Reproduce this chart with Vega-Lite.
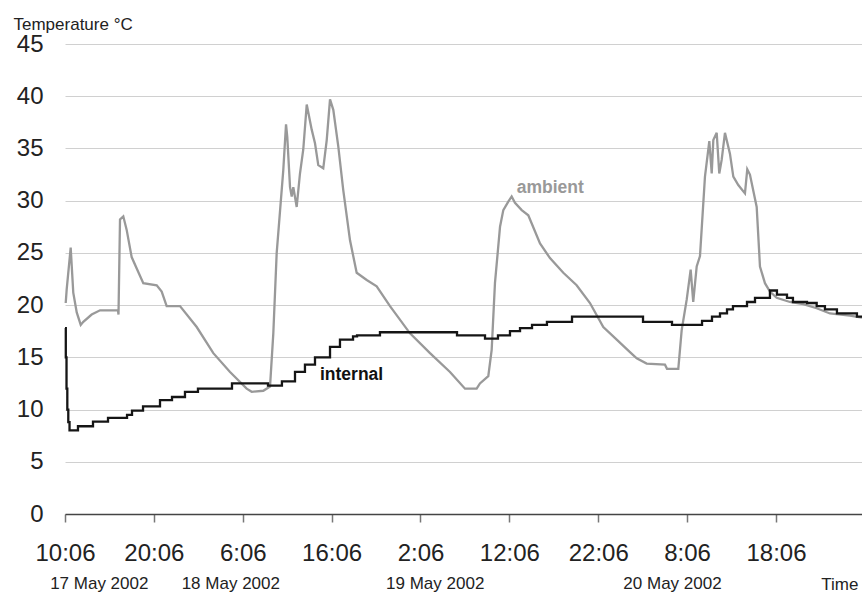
{
  "$schema": "https://vega.github.io/schema/vega-lite/v6.json",
  "width": 797,
  "height": 470,
  "autosize": {"type": "none"},
  "padding": {"left": 65, "top": 44, "right": 0, "bottom": 78},
  "background": "white",
  "config": {"view": {"stroke": null}, "font": "Liberation Sans"},
  "datasets": {
    "ambient": [
      {"hours": 0.08, "temp": 20.2}, {"hours": 0.19, "temp": 21.5}, {"hours": 0.64, "temp": 25.5}, {"hours": 0.93, "temp": 21.2},
      {"hours": 1.32, "temp": 19.3}, {"hours": 1.77, "temp": 18.1}, {"hours": 2.06, "temp": 18.4}, {"hours": 3.0, "temp": 19.1},
      {"hours": 3.94, "temp": 19.5}, {"hours": 5.96, "temp": 19.5}, {"hours": 6.02, "temp": 19.1}, {"hours": 6.19, "temp": 28.2},
      {"hours": 6.56, "temp": 28.5}, {"hours": 6.94, "temp": 27.2}, {"hours": 7.5, "temp": 24.6}, {"hours": 8.07, "temp": 23.5},
      {"hours": 8.81, "temp": 22.1}, {"hours": 10.32, "temp": 21.9}, {"hours": 10.88, "temp": 21.3}, {"hours": 11.44, "temp": 19.9},
      {"hours": 12.94, "temp": 19.9}, {"hours": 14.82, "temp": 17.9}, {"hours": 16.69, "temp": 15.4}, {"hours": 18.57, "temp": 13.6},
      {"hours": 20.44, "temp": 12.0}, {"hours": 21.01, "temp": 11.7}, {"hours": 22.31, "temp": 11.8}, {"hours": 23.07, "temp": 12.2},
      {"hours": 23.44, "temp": 17.3}, {"hours": 23.82, "temp": 25.0}, {"hours": 24.56, "temp": 32.9}, {"hours": 24.87, "temp": 37.3},
      {"hours": 25.01, "temp": 36.1}, {"hours": 25.32, "temp": 31.3}, {"hours": 25.51, "temp": 30.4}, {"hours": 25.69, "temp": 31.3},
      {"hours": 26.07, "temp": 29.4}, {"hours": 26.44, "temp": 32.6}, {"hours": 26.81, "temp": 34.9}, {"hours": 27.2, "temp": 39.2},
      {"hours": 27.76, "temp": 36.8}, {"hours": 28.13, "temp": 35.5}, {"hours": 28.5, "temp": 33.4}, {"hours": 29.06, "temp": 33.1},
      {"hours": 29.45, "temp": 35.8}, {"hours": 29.82, "temp": 39.7}, {"hours": 30.19, "temp": 38.7}, {"hours": 30.75, "temp": 35.2},
      {"hours": 31.31, "temp": 31.0}, {"hours": 32.07, "temp": 26.2}, {"hours": 32.82, "temp": 23.1}, {"hours": 33.95, "temp": 22.4},
      {"hours": 35.07, "temp": 21.8}, {"hours": 36.57, "temp": 19.9}, {"hours": 38.82, "temp": 17.3}, {"hours": 41.07, "temp": 15.4},
      {"hours": 43.32, "temp": 13.6}, {"hours": 45.01, "temp": 12.0}, {"hours": 46.32, "temp": 12.0}, {"hours": 46.69, "temp": 12.5},
      {"hours": 47.63, "temp": 13.2}, {"hours": 48.01, "temp": 15.7}, {"hours": 48.38, "temp": 22.1}, {"hours": 48.95, "temp": 27.5},
      {"hours": 49.32, "temp": 29.1}, {"hours": 49.88, "temp": 29.9}, {"hours": 50.26, "temp": 30.4}, {"hours": 50.63, "temp": 29.8},
      {"hours": 51.39, "temp": 29.1}, {"hours": 52.13, "temp": 28.6}, {"hours": 53.45, "temp": 25.9}, {"hours": 54.57, "temp": 24.5},
      {"hours": 56.07, "temp": 23.1}, {"hours": 57.57, "temp": 21.9}, {"hours": 59.07, "temp": 20.2}, {"hours": 60.57, "temp": 17.9},
      {"hours": 62.08, "temp": 16.7}, {"hours": 63.57, "temp": 15.5}, {"hours": 64.33, "temp": 14.9}, {"hours": 65.45, "temp": 14.4},
      {"hours": 67.51, "temp": 14.3}, {"hours": 67.74, "temp": 13.9}, {"hours": 69.01, "temp": 13.9}, {"hours": 69.39, "temp": 17.6},
      {"hours": 69.95, "temp": 20.5}, {"hours": 70.4, "temp": 23.4}, {"hours": 70.69, "temp": 20.3}, {"hours": 71.08, "temp": 23.7},
      {"hours": 71.45, "temp": 24.7}, {"hours": 72.01, "temp": 32.3}, {"hours": 72.5, "temp": 35.7}, {"hours": 72.77, "temp": 32.6},
      {"hours": 72.95, "temp": 35.8}, {"hours": 73.33, "temp": 36.5}, {"hours": 73.62, "temp": 32.6}, {"hours": 73.89, "temp": 33.9},
      {"hours": 74.26, "temp": 36.5}, {"hours": 74.82, "temp": 34.5}, {"hours": 75.2, "temp": 32.3}, {"hours": 75.76, "temp": 31.5},
      {"hours": 76.51, "temp": 30.7}, {"hours": 76.77, "temp": 33.0}, {"hours": 77.07, "temp": 32.5}, {"hours": 77.83, "temp": 29.4},
      {"hours": 78.2, "temp": 23.7}, {"hours": 78.76, "temp": 22.1}, {"hours": 79.32, "temp": 21.3}, {"hours": 80.08, "temp": 20.7},
      {"hours": 81.57, "temp": 20.3}, {"hours": 83.07, "temp": 20.1}, {"hours": 84.58, "temp": 19.7}, {"hours": 86.07, "temp": 19.2},
      {"hours": 88.32, "temp": 19.0}, {"hours": 89.68, "temp": 18.8}
    ],
    "internal": [
      {"hours": 0.0, "temp": 17.8}, {"hours": 0.09, "temp": 15.0}, {"hours": 0.17, "temp": 12.0}, {"hours": 0.26, "temp": 10.0},
      {"hours": 0.37, "temp": 8.8}, {"hours": 0.51, "temp": 8.0}, {"hours": 1.46, "temp": 8.4}, {"hours": 3.15, "temp": 8.85},
      {"hours": 4.84, "temp": 9.2}, {"hours": 6.98, "temp": 9.5}, {"hours": 7.54, "temp": 9.9}, {"hours": 8.78, "temp": 10.3},
      {"hours": 10.69, "temp": 10.9}, {"hours": 12.04, "temp": 11.2}, {"hours": 13.5, "temp": 11.7}, {"hours": 14.96, "temp": 12.0},
      {"hours": 18.79, "temp": 12.5}, {"hours": 22.84, "temp": 12.3}, {"hours": 24.41, "temp": 12.7}, {"hours": 25.88, "temp": 13.6},
      {"hours": 27.0, "temp": 14.3}, {"hours": 28.13, "temp": 15.0}, {"hours": 29.82, "temp": 16.0}, {"hours": 30.94, "temp": 16.7},
      {"hours": 32.41, "temp": 17.0}, {"hours": 32.86, "temp": 17.1}, {"hours": 35.44, "temp": 17.4}, {"hours": 44.11, "temp": 17.1},
      {"hours": 47.26, "temp": 16.8}, {"hours": 48.72, "temp": 17.1}, {"hours": 50.07, "temp": 17.5}, {"hours": 51.2, "temp": 17.8},
      {"hours": 52.55, "temp": 18.1}, {"hours": 54.23, "temp": 18.4}, {"hours": 57.05, "temp": 18.9}, {"hours": 65.04, "temp": 18.4},
      {"hours": 68.3, "temp": 18.1}, {"hours": 71.68, "temp": 18.5}, {"hours": 72.8, "temp": 18.9}, {"hours": 73.7, "temp": 19.2},
      {"hours": 74.49, "temp": 19.6}, {"hours": 75.16, "temp": 19.9}, {"hours": 76.74, "temp": 20.3}, {"hours": 77.64, "temp": 20.7},
      {"hours": 79.32, "temp": 21.4}, {"hours": 80.11, "temp": 21.0}, {"hours": 81.24, "temp": 20.7}, {"hours": 81.91, "temp": 20.3},
      {"hours": 83.49, "temp": 20.2}, {"hours": 84.58, "temp": 19.9}, {"hours": 85.51, "temp": 19.6}, {"hours": 86.86, "temp": 19.2},
      {"hours": 89.11, "temp": 18.9}, {"hours": 89.68, "temp": 18.9}
    ],
    "labels": [
      {"hours": 28.69, "temp": 13.3, "label": "internal", "series": "internal"},
      {"hours": 50.82, "temp": 31.2, "label": "ambient", "series": "ambient"}
    ]
  },
  "layer": [
    {
      "layer": [
        {
          "data": {"name": "ambient"},
          "mark": {"type": "line", "color": "#999999", "strokeWidth": 2.3, "interpolate": "linear"},
          "encoding": {
            "x": {
              "field": "hours", "type": "quantitative",
              "scale": {"domain": [0, 89.68], "nice": false, "zero": false},
              "axis": {
                "values": [0, 10, 20, 30, 40, 50, 60, 70, 80],
                "labelExpr": "utcFormat(utc(2002,4,17,10,6) + datum.value*3600000, '%-H:%M')",
                "title": null, "grid": false,
                "domainColor": "#444444", "domainWidth": 1.5,
                "tickColor": "#777777", "tickWidth": 1.5, "tickSize": 8,
                "labelFont": "Liberation Sans", "labelFontSize": 24, "labelColor": "#222222",
                "labelPadding": 19, "labelFlush": false, "labelOverlap": false
              }
            },
            "y": {
              "field": "temp", "type": "quantitative",
              "scale": {"domain": [0, 45], "nice": false, "zero": true},
              "axis": {
                "values": [0, 5, 10, 15, 20, 25, 30, 35, 40, 45],
                "grid": true, "gridColor": "#d0d0d0", "gridWidth": 1,
                "domain": false, "ticks": false,
                "labelFont": "Liberation Sans", "labelFontSize": 24, "labelColor": "#222222", "labelPadding": 22,
                "title": "Temperature °C", "titleAngle": 0, "titleAlign": "left", "titleBaseline": "alphabetic",
                "titleX": -52, "titleY": -15,
                "titleFont": "Liberation Sans",
                "titleFontSize": 17, "titleFontWeight": "normal", "titleColor": "#222222"
              }
            }
          }
        },
        {
          "data": {"name": "internal"},
          "mark": {"type": "line", "color": "#151515", "strokeWidth": 2.3, "interpolate": "step-after"},
          "encoding": {
            "x": {"field": "hours", "type": "quantitative"},
            "y": {"field": "temp", "type": "quantitative"}
          }
        }
      ]
    },
    {
      "data": {"name": "labels"},
      "mark": {"type": "text", "align": "left", "baseline": "middle", "fontWeight": "bold", "fontSize": 17.5,
               "font": "Liberation Sans"},
      "encoding": {
        "x": {
          "field": "hours", "type": "quantitative",
          "scale": {"domain": [0, 89.68], "nice": false, "zero": false},
          "axis": {
            "orient": "bottom",
            "values": [3.8, 18.6, 41.6, 68.3],
            "labelExpr": "utcFormat(utc(2002,4,17,10,6) + datum.value*3600000, '%-d %B %Y')",
            "domain": false, "ticks": false, "grid": false,
            "labelFont": "Liberation Sans",
            "labelFontSize": 17, "labelColor": "#222222", "labelPadding": 61,
            "labelFlush": false, "labelOverlap": false,
            "title": "Time",
            "titleFont": "Liberation Sans",
            "titleFontSize": 17, "titleFontWeight": "normal", "titleColor": "#222222",
            "titleAnchor": "end", "titleAlign": "right", "titleBaseline": "alphabetic",
            "titleX": 793, "titleY": 75
          }
        },
        "y": {"field": "temp", "type": "quantitative", "scale": {"domain": [0, 45], "nice": false}, "axis": null},
        "text": {"field": "label"},
        "color": {"field": "series", "type": "nominal", "scale": {"domain": ["ambient", "internal"], "range": ["#999999", "#111111"]}, "legend": null}
      }
    }
  ],
  "resolve": {"axis": {"x": "independent", "y": "independent"}}
}
